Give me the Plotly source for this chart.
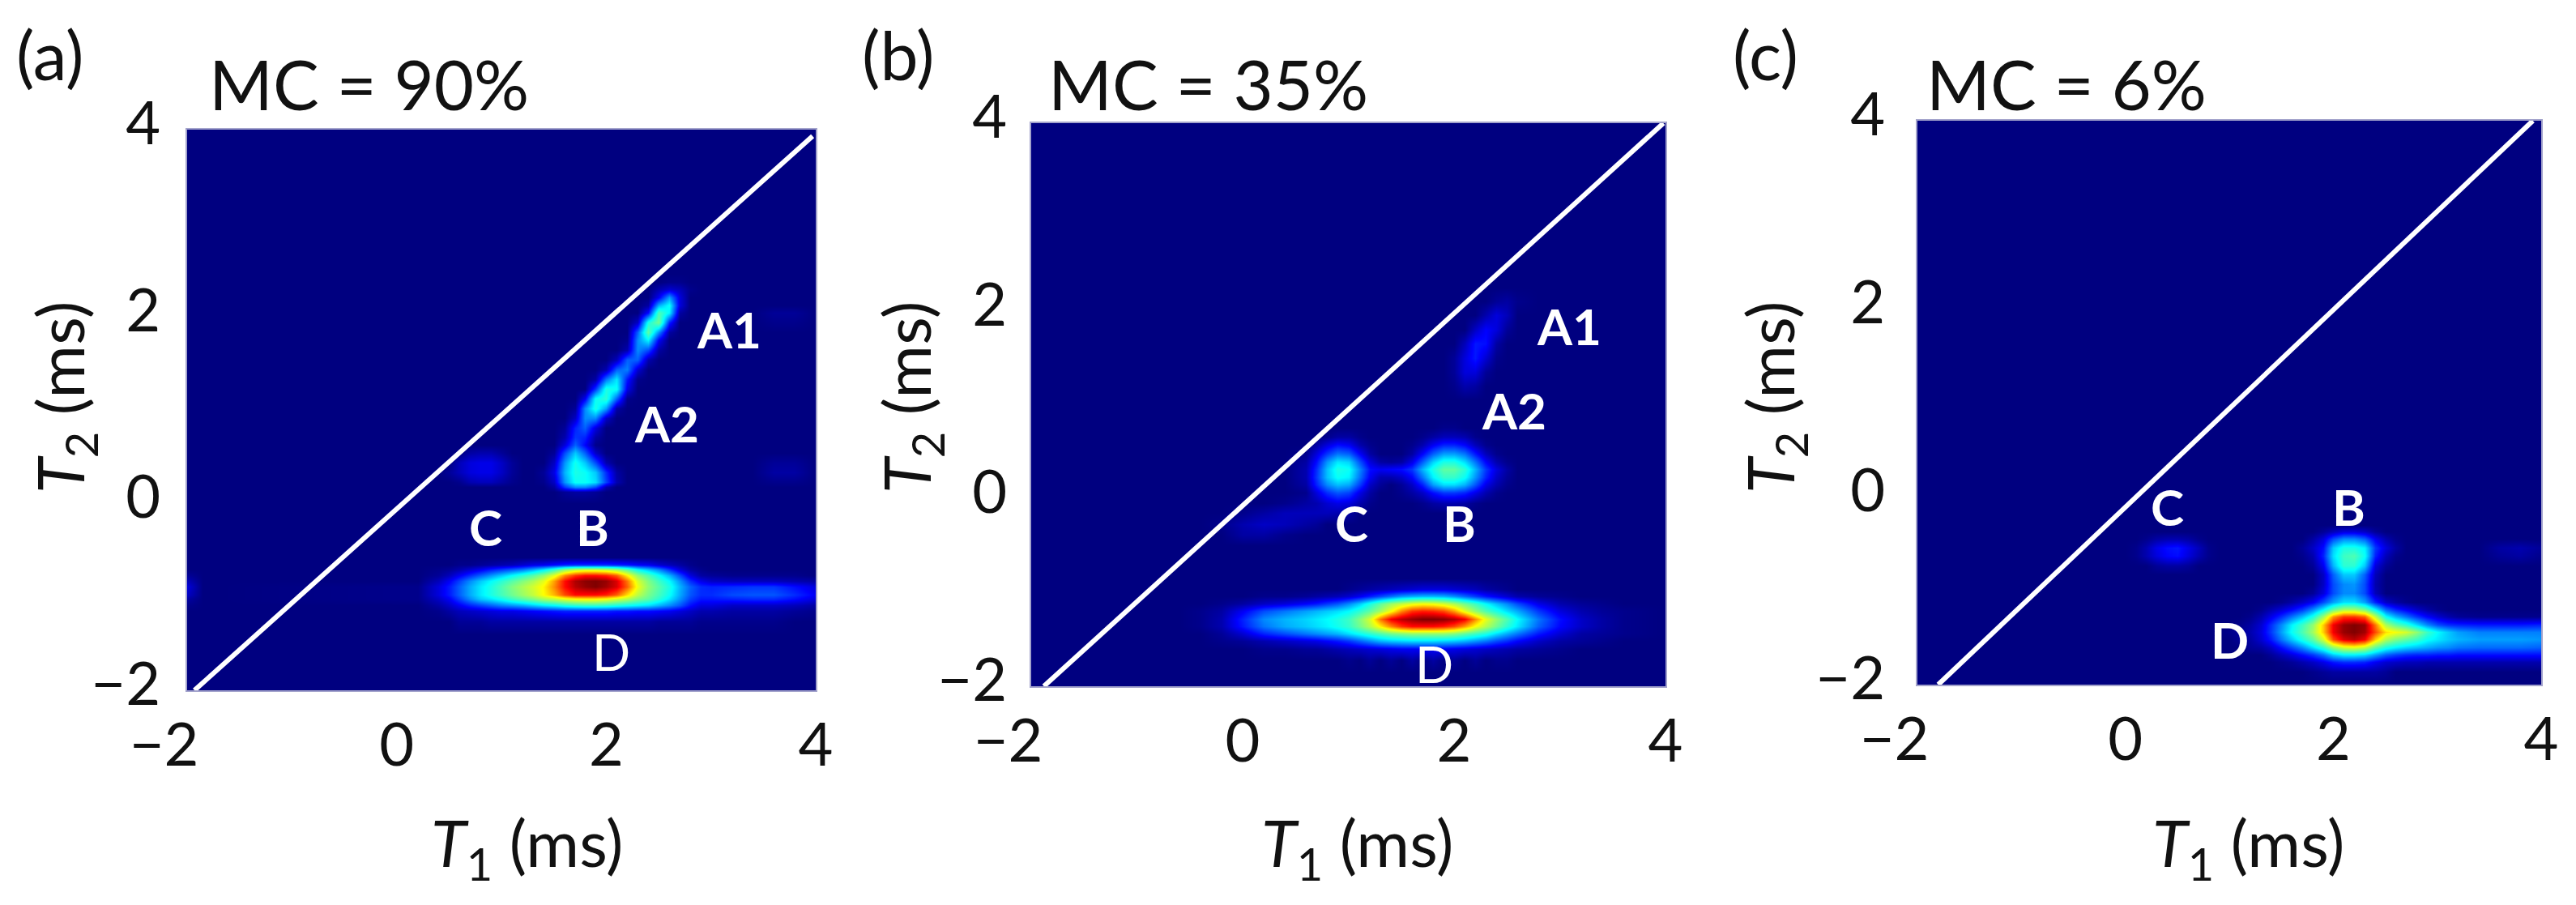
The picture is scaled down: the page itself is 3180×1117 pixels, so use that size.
import plotly.graph_objects as go

W, H = 3180, 1117

# ---------- data (intensity 0-100 on the jet scale) ----------
a_t1 = [-2.0,-1.85,-1.7,0.2,0.4,0.5,0.6,0.7,0.8,0.9,1.0,1.1,1.2,1.3,1.4,1.5,1.6,1.7,1.8,1.9,2.0,2.1,2.2,2.3,2.4,2.5,2.6,2.7,2.8,2.9,3.0,3.2,3.4,3.6,3.8,4.0]
a_rows = {
 -2.0: {}, -1.4: {},
 -1.267: {0.6:2,0.7:2,0.8:2,0.9:3,1.0:3,1.1:3,1.2:3,1.3:3,1.4:3,1.5:3,1.6:3,1.7:3,1.8:3,1.9:3,2.0:3,2.1:3,2.2:3,2.3:3,2.4:3,2.5:2,2.6:2,2.7:2,2.8:2,2.9:1,3.0:1,3.2:1,3.4:1,3.6:1},
 -1.153: [0,0,0,0,1,3,5,6,7,8,9,9,10,11,12,13,14,14,14,14,14,13,13,12,12,11,10,8,6,4,4,3,3,3,2,1],
 -1.09:  [1,0,0,0,3,6,10,14,17,20,23,25,27,30,33,35,38,40,41,41,40,38,36,34,32,28,24,19,12,8,8,6,6,6,5,3],
 -1.023: [3,0,0,1,6,10,17,24,30,33,37,42,46,50,55,58,62,65,66,66,64,60,56,50,46,40,33,25,17,13,13,14,15,15,12,8],
 -0.976: [6,0,0,1,8,13,20,27,33,38,43,48,53,58,65,72,82,88,88,88,86,80,68,57,49,43,36,27,19,15,15,18,19,19,15,10],
 -0.893: [8,0,0,1,8,13,20,27,33,38,44,50,55,60,66,76,88,95,98,100,97,92,80,63,52,45,38,28,20,15,14,15,16,16,12,8],
 -0.831: [5,0,0,0,5,10,17,24,30,35,40,45,50,55,62,74,88,96,99,100,98,92,78,60,50,42,35,25,15,9,6,5,5,5,4,3],
 -0.768: [2,0,0,0,2,5,10,15,20,25,30,35,40,45,52,62,76,84,88,88,86,80,66,52,44,36,28,18,8,3,2,1,1,1,1,0],
 -0.706: [0,0,0,0,1,2,4,7,10,14,17,20,23,28,34,42,52,58,60,60,58,54,46,36,30,24,16,8,3,1,0,0,0,0,0,0],
 -0.654: {0.6:1,0.7:1,0.8:2,0.9:3,1.0:4,1.1:5,1.2:7,1.3:9,1.4:10,1.5:12,1.6:14,1.7:15,1.8:15,1.9:15,2.0:15,2.1:14,2.2:13,2.3:11,2.4:10,2.5:7,2.6:5,2.7:3,2.8:1},
 -0.581: {}, 0.0: {},
 0.126: {1.6:2,1.7:3,1.8:3,1.9:2},
 0.178: {1.5:3,1.6:16,1.7:24,1.8:24,1.9:18,2.0:4},
 0.23:  {0.6:1,0.7:4,0.8:5,0.9:5,1.0:3,1.1:1,1.4:1,1.5:6,1.6:25,1.7:36,1.8:36,1.9:32,2.0:17,2.1:4,3.6:1,3.8:1},
 0.334: {0.5:2,0.6:5,0.7:8,0.8:9,0.9:9,1.0:6,1.1:2,1.4:2,1.5:9,1.6:28,1.7:38,1.8:36,1.9:30,2.0:15,2.1:3,3.6:3,3.8:3},
 0.438: {0.6:5,0.7:8,0.8:9,0.9:9,1.0:6,1.1:2,1.5:6,1.6:25,1.7:37,1.8:30,1.9:18,2.0:4,3.6:2,3.8:2},
 0.542: {0.7:3,0.8:4,0.9:4,1.0:2,1.5:2,1.6:18,1.7:30,1.8:20,1.9:6},
 0.625: {1.6:8,1.7:20,1.8:11,1.9:1},
 0.708: {1.6:4,1.7:16,1.8:14,1.9:3},
 0.812: {1.6:2,1.7:14,1.8:20,1.9:8},
 0.916: {1.7:6,1.8:24,1.9:24,2.0:6},
 1.02:  {1.7:2,1.8:24,1.9:38,2.0:26,2.1:3},
 1.124: {1.8:10,1.9:36,2.0:40,2.1:20,2.2:1},
 1.228: {1.9:16,2.0:38,2.1:36,2.2:9},
 1.332: {1.9:3,2.0:22,2.1:33,2.2:13,2.3:1},
 1.436: {2.0:4,2.1:20,2.2:23,2.3:7},
 1.54:  {2.1:5,2.2:20,2.3:20,2.4:4},
 1.644: {2.2:4,2.3:24,2.4:18,2.5:3},
 1.748: {2.2:1,2.3:24,2.4:34,2.5:10},
 1.83:  {2.3:20,2.4:46,2.5:24,2.6:3},
 1.935: {2.3:6,2.4:38,2.5:48,2.6:14,3.6:1,3.8:1},
 2.039: {2.4:12,2.5:44,2.6:34,2.7:3,3.6:2,3.8:2},
 2.122: {2.4:3,2.5:28,2.6:36,2.7:8},
 2.205: {2.5:10,2.6:26,2.7:8},
 2.288: {2.5:4,2.6:7,2.7:5,2.8:1},
 2.371: {2.6:1,2.7:1},
 2.454: {}, 4.0: {},
}
a_line_t1 = [-1.93, 3.97]
a_line_t2 = [-2.0, 3.93]

b_t1 = [-2.0,-0.6,-0.4,-0.2,0.0,0.2,0.4,0.6,0.7,0.8,0.9,1.0,1.1,1.2,1.3,1.4,1.5,1.6,1.7,1.8,1.9,2.0,2.1,2.2,2.3,2.4,2.5,2.6,2.8,3.0,3.2,3.4,3.6,4.0]
b_rows = {
 -2.0: {}, -1.85: {},
 -1.72: {1.0:1,1.2:2,1.4:2,1.6:3,1.8:3,2.0:2,2.2:2,2.4:1,2.5:1},
 -1.6:  [0,0,0,0,0,1,1,2,2,3,4,5,6,7,8,9,10,10,10,10,10,9,8,7,6,5,4,3,2,1,0,0,0,0],
 -1.52: [0,0,0,1,2,4,6,8,9,11,13,16,20,24,28,30,31,32,32,32,31,30,28,25,22,18,15,11,6,3,2,1,0,0],
 -1.44: [0,0,0,2,7,14,18,22,24,26,28,32,36,40,44,48,50,52,52,52,52,50,46,42,38,32,27,22,13,7,3,2,1,0],
 -1.36: [0,0,1,4,13,22,27,30,32,34,37,41,48,56,66,76,84,88,88,88,86,82,74,64,56,48,40,33,20,11,6,3,1,0],
 -1.28: [0,0,1,4,14,24,28,31,33,35,38,42,50,60,78,90,95,98,100,100,99,96,90,76,62,52,44,35,22,12,6,3,1,0],
 -1.2:  [0,0,1,3,10,18,22,26,28,30,32,35,40,46,54,64,76,84,86,85,82,74,62,52,44,38,32,27,16,8,4,2,1,0],
 -1.12: [0,0,0,1,3,6,8,11,13,16,19,24,30,38,46,53,58,62,64,63,60,55,48,42,35,29,24,18,9,4,2,1,0,0],
 -1.04: [0,0,0,0,0,1,1,2,3,4,5,7,10,14,18,22,26,28,29,29,28,25,21,17,13,10,7,4,2,1,0,0,0,0],
 -0.96: {1.0:1,1.1:2,1.2:3,1.3:4,1.4:5,1.5:6,1.6:7,1.7:8,1.8:8,1.9:8,2.0:7,2.1:6,2.2:5,2.3:3,2.4:2,2.5:1},
 -0.85: {}, -0.5: {},
 -0.385: {0.0:3,0.2:3,0.4:1},
 -0.27: {-0.2:1,0.0:4,0.2:6,0.4:5,0.6:3,0.7:2},
 -0.15: {0.0:1,0.2:3,0.4:5,0.6:5,0.7:5,0.8:5,0.9:4,1.0:3},
 -0.05: {0.4:1,0.6:3,0.7:4,0.8:7,0.9:9,1.0:8,1.1:4,1.2:1,1.7:1,1.8:3,1.9:4,2.0:4,2.1:3,2.2:1},
 0.06:  {0.6:1,0.7:8,0.8:15,0.9:19,1.0:17,1.1:9,1.2:3,1.5:1,1.6:3,1.7:6,1.8:12,1.9:16,2.0:16,2.1:14,2.2:9,2.3:4,2.4:1},
 0.15:  {0.6:3,0.7:14,0.8:24,0.9:29,1.0:27,1.1:17,1.2:6,1.3:2,1.5:2,1.6:6,1.7:14,1.8:26,1.9:32,2.0:32,2.1:28,2.2:19,2.3:9,2.4:4,2.5:1},
 0.23:  {0.6:4,0.7:16,0.8:29,0.9:36,1.0:34,1.1:22,1.2:10,1.3:4,1.4:4,1.5:6,1.6:11,1.7:22,1.8:34,1.9:41,2.0:41,2.1:36,2.2:25,2.3:14,2.4:6,2.5:2},
 0.31:  {0.6:4,0.7:15,0.8:29,0.9:38,1.0:36,1.1:24,1.2:12,1.3:10,1.4:11,1.5:12,1.6:16,1.7:28,1.8:38,1.9:46,2.0:46,2.1:40,2.2:28,2.3:16,2.4:8,2.5:3},
 0.39:  {0.6:3,0.7:12,0.8:25,0.9:33,1.0:31,1.1:19,1.2:8,1.3:3,1.4:2,1.5:3,1.6:9,1.7:20,1.8:31,1.9:38,2.0:38,2.1:32,2.2:22,2.3:11,2.4:4,2.5:1},
 0.48:  {0.6:1,0.7:8,0.8:16,0.9:22,1.0:20,1.1:11,1.2:3,1.6:3,1.7:11,1.8:20,1.9:26,2.0:26,2.1:22,2.2:13,2.3:5,2.4:1},
 0.57:  {0.7:3,0.8:8,0.9:12,1.0:10,1.1:4,1.2:1,1.6:1,1.7:4,1.8:10,1.9:14,2.0:14,2.1:11,2.2:5,2.3:1},
 0.66:  {0.8:1,0.9:3,1.0:3,1.1:1,1.7:1,1.8:3,1.9:5,2.0:5,2.1:4,2.2:1},
 0.75: {1.9:1,2.0:1}, 0.85: {}, 1.05: {},
 1.2:  {2.0:1,2.1:4,2.2:3},
 1.35: {2.0:2,2.1:8,2.2:8,2.3:2},
 1.5:  {2.0:2,2.1:8,2.2:13,2.3:7,2.4:1},
 1.65: {2.1:5,2.2:13,2.3:12,2.4:3},
 1.8:  {2.2:6,2.3:11,2.4:8,2.5:2},
 1.95: {2.3:4,2.4:8,2.5:5},
 2.1:  {2.4:2,2.5:3,2.6:1},
 2.25: {}, 4.0: {},
}
b_line_t1 = [-1.88, 3.98]
b_line_t2 = [-2.0, 4.0]

c_t1 = [-2.0,0.0,0.1,0.2,0.3,0.4,0.5,0.6,0.7,0.8,0.9,1.0,1.1,1.2,1.3,1.4,1.5,1.6,1.7,1.8,1.9,2.0,2.1,2.2,2.3,2.4,2.5,2.6,2.7,2.8,2.9,3.0,3.1,3.2,3.4,3.6,3.8,4.0]
c_rows = {
 -2.0: {},
 -1.86: {1.8:1,1.9:2,2.0:3,2.1:3,2.2:3,2.3:3,2.4:3,2.5:2},
 -1.76: {1.5:1,1.6:2,1.7:4,1.8:6,1.9:9,2.0:13,2.1:15,2.2:15,2.3:14,2.4:10,2.5:7,2.6:6,2.7:5,2.8:5,2.9:4,3.0:4,3.1:4,3.2:4,3.4:4,3.6:4,3.8:4,4.0:4},
 -1.68: {1.4:2,1.5:5,1.6:8,1.7:12,1.8:16,1.9:22,2.0:30,2.1:34,2.2:34,2.3:32,2.4:26,2.5:20,2.6:17,2.7:15,2.8:14,2.9:14,3.0:13,3.1:13,3.2:12,3.4:12,3.6:12,3.8:12,4.0:12},
 -1.6:  {1.2:2,1.3:3,1.4:6,1.5:12,1.6:18,1.7:24,1.8:32,1.9:40,2.0:52,2.1:60,2.2:62,2.3:58,2.4:46,2.5:38,2.6:34,2.7:31,2.8:29,2.9:27,3.0:25,3.1:24,3.2:22,3.4:21,3.6:21,3.8:21,4.0:20},
 -1.52: {1.1:2,1.2:3,1.3:7,1.4:13,1.5:22,1.6:30,1.7:38,1.8:46,1.9:60,2.0:82,2.1:92,2.2:95,2.3:90,2.4:70,2.5:56,2.6:50,2.7:46,2.8:42,2.9:36,3.0:33,3.1:30,3.2:28,3.4:26,3.6:26,3.8:26,4.0:25},
 -1.44: {1.0:1,1.1:2,1.2:4,1.3:8,1.4:16,1.5:26,1.6:36,1.7:44,1.8:54,1.9:70,2.0:90,2.1:98,2.2:100,2.3:97,2.4:82,2.5:68,2.6:64,2.7:60,2.8:52,2.9:42,3.0:35,3.1:30,3.2:26,3.4:23,3.6:23,3.8:23,4.0:23},
 -1.36: {1.1:1,1.2:3,1.3:7,1.4:15,1.5:24,1.6:34,1.7:42,1.8:52,1.9:70,2.0:90,2.1:98,2.2:100,2.3:98,2.4:78,2.5:55,2.6:46,2.7:40,2.8:32,2.9:24,3.0:18,3.1:15,3.2:14,3.4:13,3.6:13,3.8:13,4.0:14},
 -1.28: {1.2:1,1.3:4,1.4:9,1.5:15,1.6:22,1.7:29,1.8:38,1.9:54,2.0:75,2.1:84,2.2:84,2.3:80,2.4:58,2.5:36,2.6:28,2.7:22,2.8:16,2.9:11,3.0:7,3.1:4,3.2:2,3.4:1,3.6:1,3.8:1,4.0:1},
 -1.2:  {1.3:1,1.4:4,1.5:7,1.6:11,1.7:16,1.8:24,1.9:34,2.0:46,2.1:54,2.2:54,2.3:48,2.4:34,2.5:20,2.6:14,2.7:10,2.8:6,2.9:3,3.0:1},
 -1.12: {1.5:1,1.6:3,1.7:6,1.8:10,1.9:18,2.0:26,2.1:32,2.2:32,2.3:26,2.4:14,2.5:6,2.6:3,2.7:1},
 -1.03: {1.8:2,1.9:8,2.0:18,2.1:24,2.2:24,2.3:18,2.4:5},
 -0.93: {1.9:6,2.0:18,2.1:24,2.2:25,2.3:18,2.4:4},
 -0.83: {1.9:6,2.0:20,2.1:30,2.2:30,2.3:20,2.4:5},
 -0.73: {0.3:2,0.4:3,0.5:3,0.6:2,1.8:2,1.9:10,2.0:28,2.1:40,2.2:40,2.3:30,2.4:8,2.5:2},
 -0.63: {0.1:1,0.2:4,0.3:8,0.4:11,0.5:12,0.6:8,0.7:4,0.8:1,1.7:1,1.8:4,1.9:14,2.0:32,2.1:42,2.2:44,2.3:36,2.4:14,2.5:5,2.6:1,3.6:2,3.8:3,4.0:1},
 -0.54: {0.1:1,0.2:4,0.3:9,0.4:12,0.5:13,0.6:9,0.7:5,0.8:1,1.7:2,1.8:6,1.9:12,2.0:30,2.1:38,2.2:38,2.3:34,2.4:16,2.5:8,2.6:3,3.6:3,3.8:4,4.0:2},
 -0.45: {0.2:1,0.3:3,0.4:4,0.5:4,0.6:3,0.7:1,1.8:3,1.9:8,2.0:18,2.1:24,2.2:24,2.3:20,2.4:10,2.5:4,2.6:1},
 -0.37: {1.9:2,2.0:5,2.1:8,2.2:8,2.3:6,2.4:2},
 -0.3: {}, 4.0: {},
}
c_line_t1 = [-1.8, 3.92]
c_line_t2 = [-2.0, 4.0]

tick_vals = [-2, 0, 2, 4]
x_tick_text = ["\u22122\u00a0\u00a0\u00a0", "0", "2", "4"]
y_tick_text = ["\u22122", "0", "2", "4"]

panel_letters = ["(a)", "(b)", "(c)"]
panel_titles = ["MC = 90%", "MC = 35%", "MC = 6%"]
x_title = "<i>T</i><sub>1</sub> (ms)"
y_title = "<i>T</i><sub>2</sub> (ms)"

a_lab = [("A1", 3.17, 1.87, True), ("A2", 2.58, 0.86, True), ("C", 0.85, -0.25, True), ("B", 1.87, -0.25, True), ("D", 2.05, -1.58, False)]
b_lab = [("A1", 3.09, 1.84, True), ("A2", 2.57, 0.94, True), ("C", 1.03, -0.26, True), ("B", 2.05, -0.26, True), ("D", 1.81, -1.76, False)]
c_lab = [("C", 0.40, -0.10, True), ("B", 2.15, -0.10, True), ("D", 1.00, -1.52, True)]

jet = [[0.0,"rgb(0,0,128)"],[0.11,"rgb(0,0,255)"],[0.35,"rgb(0,255,255)"],[0.5,"rgb(128,255,128)"],
       [0.65,"rgb(255,255,0)"],[0.89,"rgb(255,0,0)"],[1.0,"rgb(128,0,0)"]]

# ---------- layout boxes in pixels (left, right, top, bottom) ----------
boxes = [(231,1007,160,852),(1273,2056,152,847),(2367,3137,149,845)]
letter_pos = [(62,67),(1108,67),(2179,67)]
title_pos = [(455,103),(1491,103),(2551,103)]
xtitle_pos = [(650,1045),(1675,1045),(2775,1045)]
ytitle_pos = [(79,491),(1124,491),(2190,491)]
y_standoff = [16,13,23]

FONT = "Lato, 'Open Sans', sans-serif"
TXT = "#111111"

def build(t1, rows):
    t2 = sorted(rows)
    z = []
    for y in t2:
        r = rows[y]
        if isinstance(r, list):
            r = dict(zip(t1, r))
        z.append([r.get(x, 0) for x in t1])
    return t2, z

def paper(txt, pos, size, angle=0):
    return dict(text=txt, xref="paper", yref="paper", x=pos[0]/W, y=1-pos[1]/H, textangle=angle,
                xanchor="center", yanchor="middle", showarrow=False, font=dict(family=FONT, size=size, color=TXT))

panels = [(a_t1,a_rows,a_line_t1,a_line_t2,a_lab),(b_t1,b_rows,b_line_t1,b_line_t2,b_lab),(c_t1,c_rows,c_line_t1,c_line_t2,c_lab)]

fig = go.Figure()
ann = []
for i,(t1,rows,lx,ly,labs) in enumerate(panels):
    s = "" if i == 0 else str(i+1)
    t2, z = build(t1, rows)
    fig.add_trace(go.Heatmap(x=t1, y=t2, z=z, zmin=0, zmax=100, zsmooth="best", colorscale=jet,
                             showscale=False, hoverinfo="skip", xaxis="x"+s, yaxis="y"+s))
    fig.add_trace(go.Scatter(x=lx, y=ly, mode="lines", line=dict(color="white", width=6),
                             showlegend=False, hoverinfo="skip", xaxis="x"+s, yaxis="y"+s))
    L,R,T,B = boxes[i]
    common = dict(range=[-2,4], tickmode="array", tickvals=tick_vals, ticks="", showgrid=False, zeroline=False,
                  showline=True, mirror=True, linecolor="#a3a3cc", linewidth=2, automargin=False,
                  tickfont=dict(family=FONT, size=74, color=TXT))
    fig.layout["xaxis"+s] = go.layout.XAxis(domain=[L/W, R/W], anchor="y"+s, ticktext=x_tick_text,
        ticklabelstandoff=2, **common)
    fig.layout["yaxis"+s] = go.layout.YAxis(domain=[1-B/H, 1-T/H], anchor="x"+s, ticktext=y_tick_text,
        ticklabelstandoff=y_standoff[i], ticklabelshift=-8, **common)
    ann.append(paper(panel_letters[i], letter_pos[i], 84))
    ann.append(paper(panel_titles[i], title_pos[i], 85))
    ann.append(paper(x_title, xtitle_pos[i], 80))
    ann.append(paper(y_title, ytitle_pos[i], 80, angle=-90))
    for (txt, x, y, bold) in labs:
        ann.append(dict(text=f"<b>{txt}</b>" if bold else txt, xref="x"+s, yref="y"+s, x=x, y=y,
                        xanchor="center", yanchor="middle", showarrow=False,
                        font=dict(family=FONT, size=62, color="white")))

fig.update_layout(width=W, height=H, autosize=False, margin=dict(l=0,r=0,t=0,b=0),
                  paper_bgcolor="white", plot_bgcolor="rgb(0,0,128)", showlegend=False, annotations=ann)
fig.write_html("out.html", config=dict(displayModeBar=False),
               post_script="document.body.style.margin='0';document.body.style.overflow='hidden';")
